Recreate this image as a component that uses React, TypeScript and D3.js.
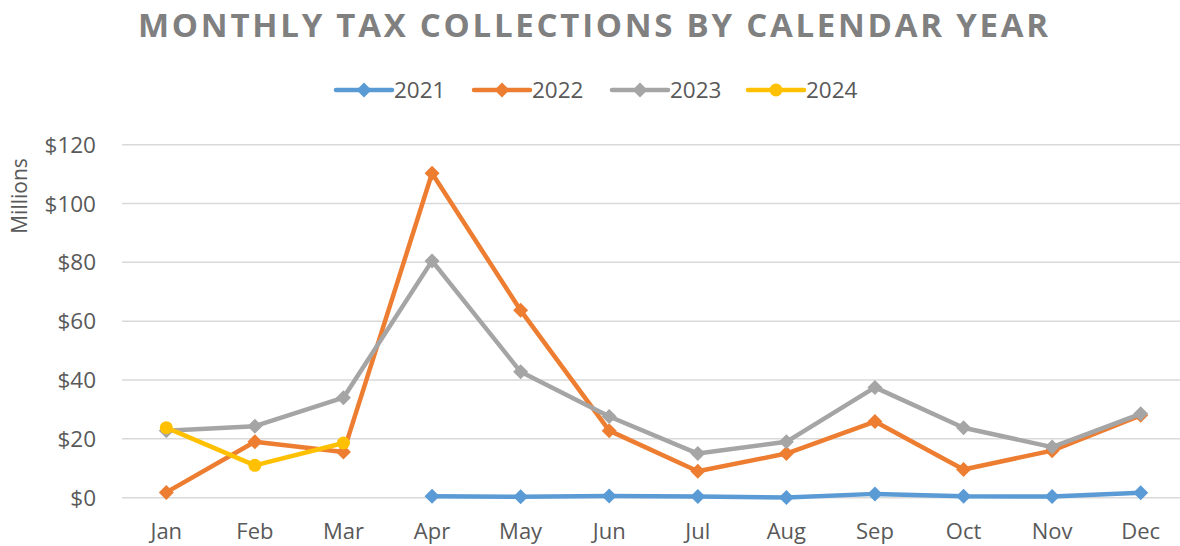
import React from "react";
import * as d3 from "d3";

const months = ["Jan","Feb","Mar","Apr","May","Jun","Jul","Aug","Sep","Oct","Nov","Dec"];
const years = ["2021","2022","2023","2024"];
const colors = ["#5B9BD5","#ED7D31","#A5A5A5","#FFC000"];
const v2021: (number|null)[] = [null,null,null,0.5,0.3,0.6,0.4,0.1,1.3,0.5,0.4,1.7];
const v2022: (number|null)[] = [1.8,19,15.5,110.3,63.7,22.8,9,15,25.9,9.6,16,28];
const v2023: (number|null)[] = [22.8,24.3,34,80.5,42.8,27.6,15,19,37.5,23.8,17.2,28.5];
const v2024: (number|null)[] = [23.8,11,18.6,null,null,null,null,null,null,null,null,null];
const yTicks = [0,20,40,60,80,100,120];

const series = [v2021, v2022, v2023, v2024];
const FONT = "'Open Sans', sans-serif";

export default function App() {
  const W = 1180, H = 546;
  const x = d3.scaleBand<string>().domain(months).range([122, 1185]);
  const y = d3.scaleLinear().domain([0, 120]).range([497.7, 144.7]);
  const cx = (m: string) => (x(m) as number) + x.bandwidth() / 2;
  const line = d3.line<{m: string; v: number|null}>()
    .defined(d => d.v !== null)
    .x(d => cx(d.m))
    .y(d => y(d.v as number));
  const diamond = (px: number, py: number, r = 7.5) =>
    `M${px},${py - r}L${px + r},${py}L${px},${py + r}L${px - r},${py}Z`;
  const legendX = [336, 474, 612, 748];

  return (
    <svg width={W} height={H} style={{ position: "absolute", left: 0, top: 0, background: "#fff" }}>
      <text x={593} y={37} textAnchor="middle" fontFamily={FONT} fontWeight={700} fontSize={33}
        fill="#808080" textLength={910} lengthAdjust="spacing">MONTHLY TAX COLLECTIONS BY CALENDAR YEAR</text>
      {years.map((yr, i) => {
        const lx = legendX[i];
        return (
          <g key={yr}>
            <line x1={lx} x2={lx + 56} y1={90} y2={90} stroke={colors[i]} strokeWidth={4.5} strokeLinecap="round" />
            {i < 3 ? <path d={diamond(lx + 28, 90, 7.5)} fill={colors[i]} /> : <circle cx={lx + 28} cy={90} r={6.5} fill={colors[i]} />}
            <text x={lx + 58} y={98} fontFamily={FONT} fontSize={22.5} fill="#595959">{yr}</text>
          </g>
        );
      })}
      {yTicks.map(t => (
        <g key={t}>
          <line x1={122} x2={1185} y1={y(t)} y2={y(t)} stroke="#D9D9D9" strokeWidth={1.5} />
          <text x={96} y={y(t) + 8} textAnchor="end" fontFamily={FONT} fontSize={22.5} fill="#595959">${t}</text>
        </g>
      ))}
      <text transform={`translate(27,196) rotate(-90)`} textAnchor="middle" fontFamily={FONT} fontSize={21} fill="#595959">Millions</text>
      {months.map(m => (
        <text key={m} x={cx(m)} y={539} textAnchor="middle" fontFamily={FONT} fontSize={22} fill="#595959">{m}</text>
      ))}
      {series.map((s, i) => {
        const data = months.map((m, j) => ({ m, v: s[j] }));
        return (
          <g key={years[i]}>
            <path d={line(data) || ""} fill="none" stroke={colors[i]} strokeWidth={4.5} strokeLinejoin="round" strokeLinecap="round" />
            {data.filter(d => d.v !== null).map(d =>
              i < 3
                ? <path key={d.m} d={diamond(cx(d.m), y(d.v as number), 7.5)} fill={colors[i]} />
                : <circle key={d.m} cx={cx(d.m)} cy={y(d.v as number)} r={6.5} fill={colors[i]} />
            )}
          </g>
        );
      })}
    </svg>
  );
}
